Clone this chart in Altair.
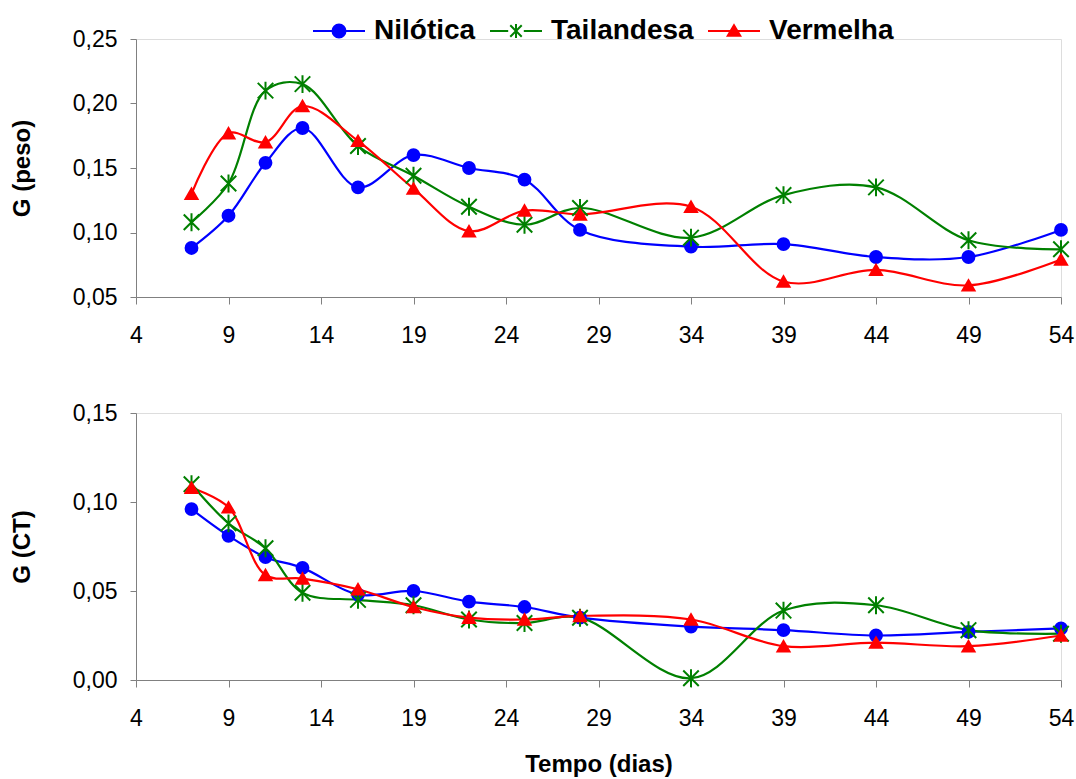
import altair as alt
import pandas as pd

dias = [7, 9, 11, 13, 16, 19, 22, 25, 28, 34, 39, 44, 49, 54]
series = ["Nilótica", "Tailandesa", "Vermelha"]

peso_nilotica = [0.088, 0.113, 0.154, 0.181, 0.135, 0.160, 0.150, 0.141, 0.102, 0.089, 0.091, 0.081, 0.081, 0.102]
peso_tailandesa = [0.108, 0.138, 0.210, 0.215, 0.167, 0.144, 0.120, 0.106, 0.119, 0.096, 0.129, 0.135, 0.094, 0.087]
peso_vermelha = [0.130, 0.177, 0.170, 0.198, 0.171, 0.134, 0.101, 0.117, 0.114, 0.120, 0.062, 0.071, 0.059, 0.079]

ct_nilotica = [0.096, 0.081, 0.069, 0.063, 0.048, 0.050, 0.044, 0.041, 0.035, 0.030, 0.028, 0.025, 0.027, 0.029]
ct_tailandesa = [0.110, 0.088, 0.074, 0.049, 0.045, 0.042, 0.034, 0.032, 0.035, 0.001, 0.039, 0.042, 0.028, 0.026]
ct_vermelha = [0.108, 0.097, 0.059, 0.057, 0.051, 0.041, 0.035, 0.034, 0.036, 0.034, 0.019, 0.021, 0.019, 0.025]

x_ticks = list(range(4, 55, 5))
peso_ticks = [0.05, 0.10, 0.15, 0.20, 0.25]
ct_ticks = [0.00, 0.05, 0.10, 0.15]

colors = ["#0000FF", "#008000", "#FF0000"]
asterisk = "M-1.3,-1.3L1.3,1.3M-1.3,1.3L1.3,-1.3M0,-1.5L0,1.5"
shapes = ["circle", asterisk, "triangle-up"]
sizes = [140, 145, 105]

# legend symbols: line segment with the marker in the middle
leg_circle = "M-1,0L1,0M-0.25,0A0.25,0.25 0 1,0 0.25,0A0.25,0.25 0 1,0 -0.25,0Z"
leg_star = "M-1,0L-0.3,0M0.3,0L1,0M-0.22,-0.22L0.22,0.22M-0.22,0.22L0.22,-0.22M0,-0.27L0,0.27"
leg_tri = "M-1,0L1,0M0,-0.22L0.24,0.18L-0.24,0.18Z"
leg_shapes = [leg_circle, leg_star, leg_tri]


def long_df(vals):
    rows = []
    for s, v in zip(series, vals):
        for d, y in zip(dias, v):
            rows.append({"dia": d, "serie": s, "valor": y})
    return pd.DataFrame(rows)


df_peso = long_df([peso_nilotica, peso_tailandesa, peso_vermelha])
df_ct = long_df([ct_nilotica, ct_tailandesa, ct_vermelha])

FONT = "Liberation Sans"
label_expr = "replace(format(datum.value, '.2f'), '.', ',')"

legend = alt.Legend(
    title=None,
    orient="none",
    direction="horizontal",
    legendX=176,
    legendY=-35,
    labelFont=FONT,
    labelFontSize=28,
    labelFontWeight="bold",
    labelColor="black",
    labelOffset=8,
    symbolSize=2704,
    symbolStrokeWidth=2,
    columnPadding=10,
    padding=0,
)


def cscale():
    return alt.Scale(domain=series, range=colors)


def panel(df, ytitle, ydomain, yticks, height, show_xtitle, with_legend):
    x = alt.X(
        "dia:Q",
        scale=alt.Scale(domain=[4, 54], nice=False, zero=False),
        axis=alt.Axis(
            values=x_ticks,
            title="Tempo (dias)" if show_xtitle else None,
            grid=False,
            labelFlush=False,
            labelFontSize=23,
            labelFont=FONT,
            labelColor="black",
            titleFont=FONT,
            titleFontSize=24,
            titleFontWeight="bold",
            titleColor="black",
            titlePadding=22,
            domainColor="#808080",
            tickColor="#808080",
            tickSize=7,
            labelPadding=20,
        ),
    )
    y = alt.Y(
        "valor:Q",
        scale=alt.Scale(domain=ydomain, nice=False, zero=False),
        axis=alt.Axis(
            values=yticks,
            labelExpr=label_expr,
            title=ytitle,
            grid=False,
            labelFlush=False,
            labelFontSize=23,
            labelFont=FONT,
            labelColor="black",
            titleFont=FONT,
            titleFontSize=24,
            titleFontWeight="bold",
            titleColor="black",
            titlePadding=38,
            domainColor="#808080",
            tickColor="#808080",
            tickSize=6,
            labelPadding=13,
        ),
    )
    line = alt.Chart(df).mark_line(interpolate="catmull-rom", strokeWidth=2.2).encode(
        x=x,
        y=y,
        color=alt.Color("serie:N", scale=cscale(), legend=None),
        detail="serie:N",
    )
    pts = alt.Chart(df).mark_point(strokeWidth=2, opacity=1, fillOpacity=1).encode(
        x=x,
        y=y,
        color=alt.Color("serie:N", scale=cscale(), legend=None),
        fill=alt.Fill("serie:N", scale=cscale(), legend=None),
        shape=alt.Shape("serie:N", scale=alt.Scale(domain=series, range=shapes), legend=None),
        size=alt.Size("serie:N", scale=alt.Scale(domain=series, range=sizes), legend=None),
    )
    layers = [line, pts]
    if with_legend:
        dummy = (
            alt.Chart(df)
            .transform_filter("false")
            .mark_point(strokeWidth=2, opacity=1, fillOpacity=1)
            .encode(
                x=x,
                y=y,
                color=alt.Color("serie:N", scale=cscale(), legend=legend),
                fill=alt.Fill("serie:N", scale=cscale(), legend=legend),
                shape=alt.Shape("serie:N", scale=alt.Scale(domain=series, range=leg_shapes), legend=legend),
            )
        )
        layers.append(dummy)
    return (
        alt.layer(*layers)
        .resolve_scale(color="independent", fill="independent", shape="independent", size="independent")
        .properties(width=925, height=height)
    )


top = panel(df_peso, "G (peso)", [0.05, 0.25], peso_ticks, 258, False, True)
bottom = panel(df_ct, "G (CT)", [0.0, 0.15], ct_ticks, 267, True, False)

chart = (
    alt.vconcat(top, bottom, spacing=53)
    .properties(
        padding={"left": 9, "top": 3, "right": 0, "bottom": 0},
    )
    .configure_view(stroke=None)
    .configure(background="white")
)

chart.save("out.html", embed_options={"renderer": "svg", "actions": False})
